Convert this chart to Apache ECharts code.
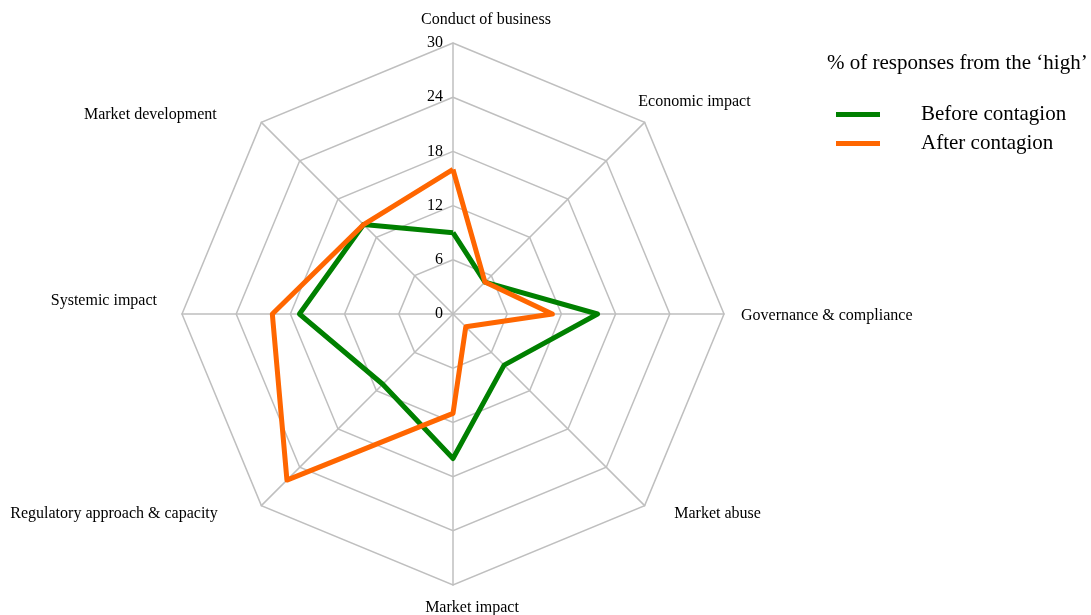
<!DOCTYPE html>
<html>
<head>
<meta charset="utf-8">
<script src="https://cdn.jsdelivr.net/npm/echarts@6/dist/echarts.min.js"></script>
<style>
html,body{margin:0;padding:0;background:#fff;}
#chart{width:1091px;height:615px;}
</style>
</head>
<body>
<div id="chart"></div>
<script>
// Categories in clockwise order starting from the top
const categories = [
  'Conduct of business',
  'Economic impact',
  'Governance & compliance',
  'Market abuse',
  'Market impact',
  'Regulatory approach & capacity',
  'Systemic impact',
  'Market development'
];
const beforeContagion = [9, 5, 16, 8, 16, 11, 17, 14];
const afterContagion  = [16, 5, 11, 2, 11, 26, 20, 14];
const tickLabels = ['0', '6', '12', '18', '24', '30'];
const seriesNames = ['Before contagion', 'After contagion'];
const legendTitle = '% of responses from the \u2018high\u2019';

const axisMax = 30;

// Layout tweaks for the category names (padding [top, right, bottom, left]) and name gaps
const namePadding = [
  [0, 0, 0, 66],
  [0, 0, 54, 0],
  [4, 0, 0, 2],
  [0, 0, 4, 19],
  [0, 0, 0, 38],
  [0, 33, 4, 0],
  [0, 10, 26, 0],
  [6, 34, 0, 0]
];
const nameGaps = [15, -9, 15, 15, 15, 15, 15, 15];

// ECharts radar runs counter-clockwise; reorder to draw clockwise
const order = [0, 7, 6, 5, 4, 3, 2, 1];
const reorder = arr => order.map(i => arr[i]);

const FONT = '"Liberation Serif", "Times New Roman", serif';

const rich = {};
categories.forEach((c, i) => {
  rich['n' + i] = { fontFamily: FONT, fontSize: 16, color: '#000', padding: namePadding[i] };
});

const indicators = order.map((i, k) => ({
  name: categories[i],
  max: axisMax,
  min: 0,
  nameGap: nameGaps[i],
  axisLabel: { show: k === 0 }
}));

const chart = echarts.init(document.getElementById('chart'), null, { renderer: 'canvas' });
chart.setOption({
  backgroundColor: '#ffffff',
  animation: false,
  title: {
    text: legendTitle,
    left: 822,
    top: 48,
    textStyle: { fontFamily: FONT, fontSize: 21, fontWeight: 'normal', color: '#000' }
  },
  legend: {
    orient: 'vertical',
    left: 831,
    top: 99,
    itemWidth: 44,
    itemHeight: 5,
    itemGap: 8,
    icon: 'rect',
    data: seriesNames,
    textStyle: { fontFamily: FONT, fontSize: 21, color: '#000', padding: [0, 0, 0, 36] }
  },
  radar: {
    center: [453, 314],
    radius: 271,
    startAngle: 90,
    shape: 'polygon',
    splitNumber: 5,
    indicator: indicators,
    axisName: {
      color: '#000', fontFamily: FONT, fontSize: 16,
      formatter: name => '{n' + categories.indexOf(name) + '|' + name + '}',
      rich: rich
    },
    nameGap: 15,
    axisLine: { show: true, lineStyle: { color: '#bfbfbf', width: 1.5 } },
    splitLine: { show: true, lineStyle: { color: '#bfbfbf', width: 1.5 } },
    splitArea: { show: false },
    axisTick: { show: false },
    axisLabel: {
      show: false,
      color: '#000',
      fontFamily: FONT,
      fontSize: 16,
      margin: 10,
      formatter: v => tickLabels[Math.round(v / 6)] ?? String(v)
    }
  },
  series: [{
    type: 'radar',
    symbol: 'none',
    data: [
      { name: seriesNames[0], value: reorder(beforeContagion),
        lineStyle: { color: '#008000', width: 5 }, itemStyle: { color: '#008000' } },
      { name: seriesNames[1], value: reorder(afterContagion),
        lineStyle: { color: '#ff6600', width: 5 }, itemStyle: { color: '#ff6600' } }
    ]
  }]
});
</script>
</body>
</html>
